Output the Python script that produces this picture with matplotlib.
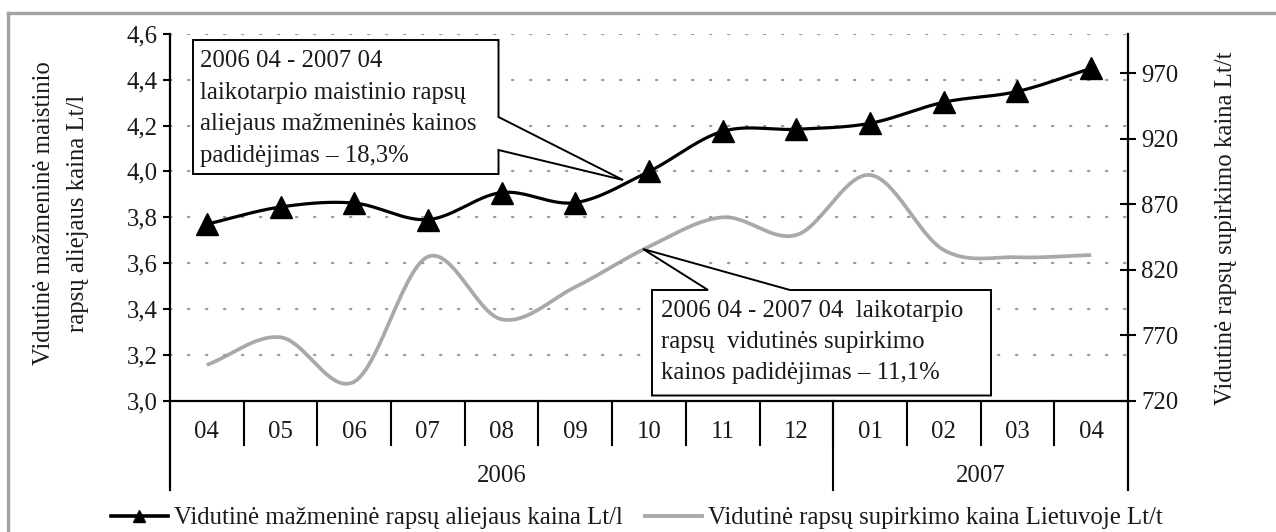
import numpy as np
import matplotlib
matplotlib.use('Agg')
import matplotlib.pyplot as plt
from matplotlib.lines import Line2D
from matplotlib.patches import Polygon
from matplotlib import transforms

# ---------------- data ----------------
months = ['04', '05', '06', '07', '08', '09', '10', '11', '12', '01', '02', '03', '04']
years = ['2006', '2007']
year_counts = [9, 4]
retail_oil = [3.77, 3.845, 3.862, 3.79, 3.908, 3.864, 4.00, 4.175, 4.184, 4.21, 4.302, 4.349, 4.45]
purchase = [747.3, 768.4, 734.5, 829.9, 782.1, 806.8, 837.6, 860.0, 846.5, 892.3, 835.0, 829.5, 831.2]
left_ticks = [3.0, 3.2, 3.4, 3.6, 3.8, 4.0, 4.2, 4.4, 4.6]
right_ticks = [720, 770, 820, 870, 920, 970]
left_label = 'Vidutinė mažmeninė maistinio\nrapsų aliejaus kaina Lt/l'
right_label = 'Vidutinė rapsų supirkimo kaina Lt/t'
series_labels = ['Vidutinė mažmeninė rapsų aliejaus kaina Lt/l',
                 'Vidutinė rapsų supirkimo kaina Lietuvoje Lt/t']
note1 = ['2006 04 - 2007 04', 'laikotarpio maistinio rapsų',
         'aliejaus mažmeninės kainos', 'padidėjimas – 18,3%']
note2 = ['2006 04 - 2007 04  laikotarpio', 'rapsų  vidutinės supirkimo',
         'kainos padidėjimas – 11,1%']

plt.rcParams['font.family'] = ['Liberation Serif', 'DejaVu Serif']
TXT = '#1a1a1a'
FS = 17.8

W, H = 1276, 532
fig = plt.figure(figsize=(W / 100, H / 100), dpi=100)
fig.patch.set_facecolor('white')

# pixel (top-left origin) -> figure transform
PX = transforms.Affine2D().scale(1 / W, -1 / H).translate(0, 1) + fig.transFigure

L, R, T, B = 170, 1128, 33.9, 400.7
ax = fig.add_axes([L / W, 1 - B / H, (R - L) / W, (B - T) / H])
ax2 = ax.twinx()


def smooth(y, n=30):
    """Catmull-Rom style smoothing of a uniformly spaced series (drawing style)."""
    y = np.asarray(y, float)
    k = len(y)
    m = np.zeros(k)
    m[1:-1] = (y[2:] - y[:-2]) / 2
    m[0] = y[1] - y[0]
    m[-1] = y[-1] - y[-2]
    xs, ys = [], []
    t = np.linspace(0, 1, n, endpoint=False)
    h00 = 2 * t**3 - 3 * t**2 + 1
    h10 = t**3 - 2 * t**2 + t
    h01 = -2 * t**3 + 3 * t**2
    h11 = t**3 - t**2
    for i in range(k - 1):
        xs.append(i + t)
        ys.append(h00 * y[i] + h10 * m[i] + h01 * y[i + 1] + h11 * m[i + 1])
    xs.append([k - 1])
    ys.append([y[-1]])
    return np.concatenate(xs), np.concatenate(ys)


x = np.arange(len(months))

# grey series (right axis)
sx, sy = smooth(purchase)
ax2.plot(sx, sy, color='#a9a9a9', lw=2.7, solid_capstyle='butt', zorder=2)

# black series (left axis)
bx, by = smooth(retail_oil)
ax.plot(bx, by, color='black', lw=2.3, zorder=3)
ax.plot(x, retail_oil, linestyle='none', marker='^', markersize=16,
        color='black', zorder=4)
ax.set_zorder(ax2.get_zorder() + 1)
ax.patch.set_visible(False)

ax.set_xlim(-0.5, len(months) - 0.5)
ax.set_ylim(3.0, 4.6)
ax2.set_ylim(720, 1000)

ax.set_yticks(left_ticks)
ax.set_yticklabels([f'{v:.1f}'.replace('.', ',') for v in left_ticks])
ax2.set_yticks(right_ticks)
ax2.set_yticklabels([str(v) for v in right_ticks])
ax.set_xticks([])

for a in (ax, ax2):
    for s in a.spines.values():
        s.set_visible(False)

ax.tick_params(axis='y', direction='out', length=5, width=1.5, color='black',
               labelsize=FS, labelcolor=TXT, pad=4)
ax2.tick_params(axis='y', direction='inout', length=11, width=1.5, color='black',
                labelsize=FS, labelcolor=TXT, pad=4)

# dotted grid on left ticks
for v in left_ticks[1:]:
    ax.axhline(v, color='#9a9a9a', lw=1.6, linestyle=(0, (0.6, 7.5)),
               dash_capstyle='round', zorder=0)

# axes lines (extend below to category area)
ext = (B - 490) / (B - T)      # axes fraction for y=490px
mid = (B - 445) / (B - T)      # axes fraction for y=445px
ax.plot([0, 0], [ext, 1], transform=ax.transAxes, color='black', lw=1.6, clip_on=False, zorder=5)
ax.plot([1, 1], [ext, 1], transform=ax.transAxes, color='black', lw=1.6, clip_on=False, zorder=5)
ax.plot([0, 1], [0, 0], transform=ax.transAxes, color='black', lw=1.6, clip_on=False, zorder=5)

bt = transforms.blended_transform_factory(ax.transData, ax.transAxes)
for i in range(1, len(months)):
    ax.plot([i - 0.5, i - 0.5], [mid, 0], transform=bt, color='black', lw=1.5,
            clip_on=False, zorder=5)
# year separator
ax.plot([year_counts[0] - 0.5] * 2, [ext, 0], transform=bt, color='black', lw=1.5,
        clip_on=False, zorder=5)

ymon = (B - 432) / (B - T)
yyear = (B - 476) / (B - T)
for i, m in enumerate(months):
    ax.text(i, ymon, m, transform=bt, ha='center', va='center', fontsize=FS, color=TXT)
start = -0.5
for yr, c in zip(years, year_counts):
    ax.text(start + c / 2, yyear, yr, transform=bt, ha='center', va='center',
            fontsize=FS, color=TXT)
    start += c

# axis titles
fig.text(61 / W, 1 - 213 / H, left_label, rotation=90, ha='center', va='center',
         fontsize=FS, color=TXT, linespacing=1.72, multialignment='center')
fig.text(1226 / W, 1 - 228 / H, right_label, rotation=90, ha='center', va='center',
         fontsize=FS, color=TXT)

# callout 1 (points to black line)
tip1 = (623, 180)
poly1 = [(193, 40), (498.5, 40), (498.5, 117), tip1, (498.5, 150), (498.5, 174), (193, 174)]
fig.add_artist(Polygon(poly1, closed=True, transform=PX, facecolor='white',
                       edgecolor='black', lw=1.4, zorder=10))
for j, s in enumerate(note1):
    fig.text(200, 66.7 + j * 31.8, s, transform=PX, ha='left', va='baseline',
             fontsize=FS, color=TXT, zorder=11)

# callout 2 (points to grey line)
tip2 = (643, 249)
poly2 = [(652, 290), (708, 290), tip2, (790, 290), (991, 290), (991, 395.5), (652, 395.5)]
fig.add_artist(Polygon(poly2, closed=True, transform=PX, facecolor='white',
                       edgecolor='black', lw=1.4, zorder=10))
for j, s in enumerate(note2):
    fig.text(661, 316.7 + j * 31.3, s, transform=PX, ha='left', va='baseline',
             fontsize=FS, color=TXT, zorder=11)

# outer frame (top and left visible)
fig.add_artist(Line2D([8, W], [13, 13], transform=PX, color='#a3a3a3', lw=2.4))
fig.add_artist(Line2D([8, 8], [13, H], transform=PX, color='#a3a3a3', lw=2.4))

# legend
h1 = Line2D([], [], color='black', lw=2.6, marker='^', markersize=9)
h2 = Line2D([], [], color='#a9a9a9', lw=2.8)
fig.legend([h1, h2], series_labels, loc='center', bbox_to_anchor=(637 / W, 1 - 518 / H),
           ncol=2, frameon=False, fontsize=FS, handlelength=2.3, handletextpad=0.25,
           columnspacing=0.9, borderpad=0, labelcolor=TXT)

fig.savefig('out.png', dpi=100, facecolor='white')
